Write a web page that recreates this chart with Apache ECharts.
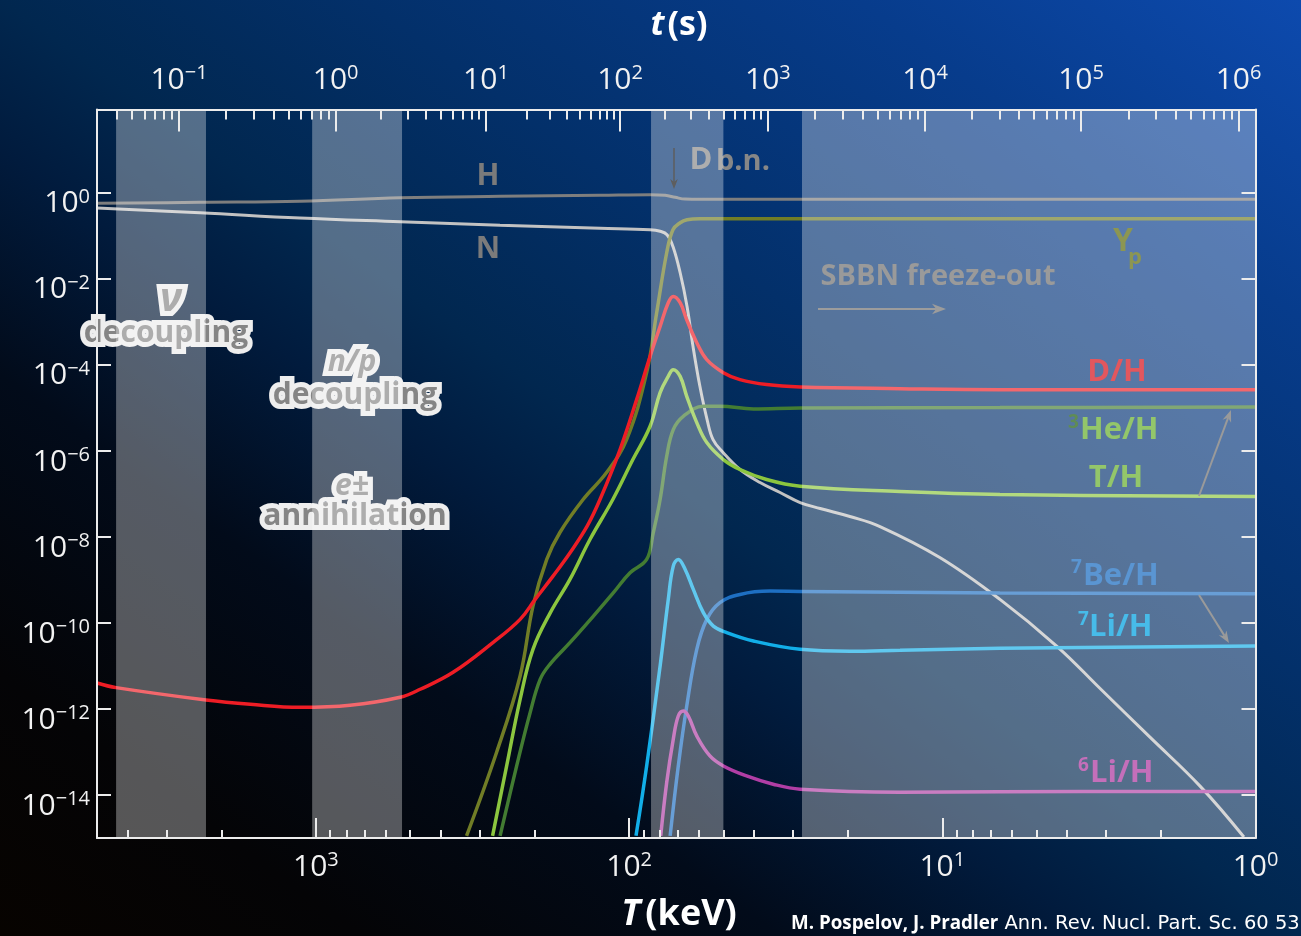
<!DOCTYPE html>
<html>
<head>
<meta charset="utf-8">
<script src="https://cdn.jsdelivr.net/npm/echarts@6/dist/echarts.min.js"></script>
<style>
  html, body { margin: 0; padding: 0; width: 1301px; height: 936px; overflow: hidden;
    background: linear-gradient(to top right, #070300 0%, #040406 14%, #020b1a 30%, #011b3d 42%, #01274f 50%, #03306a 64%, #073c8c 83%, #0d4aae 100%); }
  #chart { width: 1301px; height: 936px; }
</style>
</head>
<body>
<div id="chart"></div>
<script>
// Abundances during Big Bang nucleosynthesis.
// All pairs are [log10(T / keV), log10(abundance)].
const T_MAX_KEV = 5000;
const logTmax = Math.log10(T_MAX_KEV);
const yMin = -15, yMax = 1.94;

const tempTickExp = [0, 1, 2, 3];
const abundTickExp = [-14, -12, -10, -8, -6, -4, -2, 0];
// cosmic time t = 10^n s and the matching log10(T / keV)
const timeTickExp = [-1, 0, 1, 2, 3, 4, 5, 6];
const timeTickLogT = [3.437, 2.937, 2.457, 2.029, 1.557, 1.055, 0.557, 0.054];

// shaded epochs: nu decoupling, n/p decoupling + e± annihilation, D bottleneck, SBBN freeze-out
const shadedBands = [[3.638, 3.351], [3.012, 2.725], [1.930, 1.699], [1.448, 0]];

const hydrogen = [[3.699,-0.242],[3.370,-0.218],[3.051,-0.195],[2.731,-0.114],[2.412,-0.079],[2.093,-0.056],
  [1.933,-0.044],[1.885,-0.056],[1.853,-0.102],[1.821,-0.144],[1.774,-0.149],[0,-0.149]];

const neutrons = [[3.699,-0.353],[3.370,-0.462],[3.051,-0.585],[2.731,-0.671],[2.412,-0.753],[2.093,-0.822],
  [1.933,-0.857],[1.901,-0.892],[1.879,-0.973],[1.860,-1.245],[1.837,-1.856],[1.815,-2.639],[1.796,-3.568],
  [1.774,-4.497],[1.751,-5.270],[1.732,-5.735],[1.700,-6.037],[1.646,-6.432],[1.582,-6.734],[1.518,-6.966],
  [1.454,-7.199],[1.390,-7.339],[1.295,-7.524],[1.199,-7.757],[1.008,-8.477],[0.816,-9.452],[0.634,-10.542],
  [0.497,-11.518],[0.337,-12.656],[0.177,-13.794],[0.037,-14.978]];

const heliumYp = [[2.519,-14.950],[2.423,-13.006],[2.348,-11.233],[2.307,-9.607],[2.263,-8.523],[2.221,-7.896],
  [2.147,-7.129],[2.072,-6.502],[2.008,-5.735],[1.944,-4.179],[1.912,-2.785],[1.880,-1.391],[1.860,-0.857],
  [1.837,-0.694],[1.815,-0.624],[1.774,-0.601],[1.454,-0.601],[0,-0.601]];

const deuterium = [[3.699,-11.396],[3.638,-11.503],[3.351,-11.791],[3.209,-11.891],[3.051,-11.961],[2.891,-11.914],
  [2.731,-11.728],[2.667,-11.542],[2.562,-11.147],[2.434,-10.450],[2.348,-9.916],[2.300,-9.451],[2.243,-8.911],
  [2.188,-8.360],[2.134,-7.749],[2.093,-7.129],[2.029,-5.967],[1.976,-4.806],[1.933,-3.800],[1.901,-3.103],
  [1.875,-2.553],[1.859,-2.406],[1.837,-2.553],[1.816,-2.948],[1.784,-3.482],[1.752,-3.877],[1.699,-4.179],
  [1.646,-4.341],[1.561,-4.457],[1.454,-4.511],[1.135,-4.551],[0.816,-4.574],[0,-4.574]];

const tritium = [[2.436,-14.950],[2.391,-13.324],[2.348,-11.775],[2.307,-10.613],[2.251,-9.754],[2.189,-8.987],
  [2.125,-8.058],[2.052,-7.129],[1.988,-6.200],[1.933,-5.426],[1.901,-4.643],[1.875,-4.265],[1.859,-4.109],
  [1.837,-4.265],[1.816,-4.729],[1.784,-5.340],[1.752,-5.805],[1.699,-6.200],[1.646,-6.432],[1.561,-6.664],
  [1.454,-6.820],[1.135,-6.943],[0.816,-7.013],[0,-7.059]];

const helium3 = [[2.412,-14.950],[2.359,-13.324],[2.316,-12.084],[2.284,-11.310],[2.253,-10.961],[2.189,-10.458],
  [2.114,-9.840],[2.050,-9.296],[1.997,-8.832],[1.944,-8.523],[1.923,-7.903],[1.901,-7.129],[1.880,-6.123],
  [1.859,-5.503],[1.827,-5.194],[1.763,-4.962],[1.710,-4.962],[1.603,-5.022],[1.454,-4.999],[0.816,-4.992],[0,-4.980]];

const beryllium7 = [[1.869,-14.950],[1.843,-13.324],[1.816,-11.930],[1.784,-10.613],[1.752,-9.916],[1.710,-9.528],
  [1.646,-9.336],[1.550,-9.259],[1.454,-9.266],[0.816,-9.301],[0,-9.319]];

const lithium7 = [[1.978,-14.950],[1.944,-13.324],[1.901,-11.001],[1.875,-9.452],[1.859,-8.678],[1.843,-8.523],
  [1.821,-8.755],[1.795,-9.220],[1.763,-9.761],[1.731,-10.072],[1.688,-10.225],[1.603,-10.420],[1.454,-10.613],
  [1.295,-10.659],[1.135,-10.636],[0.816,-10.590],[0,-10.537]];

const lithium6 = [[1.899,-14.950],[1.880,-13.710],[1.859,-12.704],[1.843,-12.163],[1.827,-12.047],[1.811,-12.163],
  [1.784,-12.627],[1.742,-13.092],[1.699,-13.324],[1.625,-13.556],[1.540,-13.749],[1.454,-13.865],[1.135,-13.935],
  [0.816,-13.923],[0,-13.919]];

// ---- tick positions (log-spaced minor ticks) ----
const tempMinor = [];
for (let e = 0; e < 4; e++) {
  for (let k = 2; k <= 9; k++) {
    const v = e + Math.log10(k);
    if (v <= logTmax + 1e-9) tempMinor.push(v);
  }
}
const timeMinor = [];
for (let i = -1; i < timeTickLogT.length - 1; i++) {
  const a = i < 0 ? 0 : i, b = a + 1;
  const base = i < 0 ? timeTickLogT[0] - (timeTickLogT[1] - timeTickLogT[0]) : timeTickLogT[a];
  const step = timeTickLogT[b] - timeTickLogT[a];
  for (let k = 2; k <= 9; k++) {
    const v = base + step * Math.log10(k);
    if (v >= 0 && v <= logTmax) timeMinor.push(v);
  }
}

const FONT = "'Open Sans', 'Noto Sans', sans-serif";
const WHITE = '#ececec';

function pow10(e) {
  return '{m|10}{s|' + (e < 0 ? '\u2212' + (-e) : String(e)) + '}';
}
const labelRich = {
  m: { fontFamily: FONT, fontSize: 30, color: '#f2f2f2', lineHeight: 34 },
  s: { fontFamily: FONT, fontSize: 20, color: '#f2f2f2', lineHeight: 22, verticalAlign: 'top' }
};
const lineStyleAxis = { color: WHITE, width: 2 };

function lineSeries(name, data, color, width) {
  return {
    type: 'line', name: name, data: data, xAxisIndex: 0, yAxisIndex: 0,
    symbol: 'none', showSymbol: false, smooth: 0.4, clip: true, silent: true, z: 2,
    lineStyle: { color: color, width: width }
  };
}

// ---- annotation helpers ----
function text(t, x, y, size, fill, opt) {
  opt = opt || {};
  return {
    type: 'text', z: opt.z || 3, x: x, y: y,
    style: {
      text: t, fill: fill, font: (opt.style || 'normal') + ' ' + (opt.weight || 'bold') + ' ' + size + 'px ' + FONT,
      textAlign: opt.align || 'center', textVerticalAlign: 'middle'
    }
  };
}
function outlined(t, x, y, size, italic) {
  const font = (italic ? 'italic ' : '') + 'bold ' + size + 'px ' + FONT;
  return [
    { type: 'text', z: 3, x: x, y: y, style: { text: t, font: font, fill: '#eeeeee', stroke: '#eeeeee', lineWidth: 10, lineJoin: 'round', textAlign: 'center', textVerticalAlign: 'middle' } },
    { type: 'text', z: 4, x: x, y: y, style: { text: t, font: font, fill: '#858585', textAlign: 'center', textVerticalAlign: 'middle' } }
  ];
}
function arrow(x1, y1, x2, y2, color, w, head) {
  const ang = Math.atan2(y2 - y1, x2 - x1);
  const c = Math.cos(ang), s = Math.sin(ang);
  const bx = x2 - head * c, by = y2 - head * s;
  const nx = x2 - head * 0.7 * c, ny = y2 - head * 0.7 * s;
  const px = -s * head * 0.38, py = c * head * 0.38;
  return [
    { type: 'line', z: 30, shape: { x1: x1, y1: y1, x2: nx, y2: ny }, style: { stroke: color, lineWidth: w } },
    { type: 'polygon', z: 30, shape: { points: [[x2, y2], [bx + px, by + py], [nx, ny], [bx - px, by - py]] }, style: { fill: color } }
  ];
}

const graphics = [].concat(
  [
    text('H', 488, 176, 30, '#7b7b7b'),
    text('N', 488, 249, 30, '#7b7b7b'),
    text('D', 701, 160, 31, '#878787'),
    text('b.n.', 716, 162, 29, '#878787', { align: 'left' })
  ],
  outlined('\u03bd', 171, 300, 40, true),
  outlined('decoupling', 166, 333, 30, false),
  outlined('n/p', 352, 362, 30, true),
  outlined('decoupling', 355, 395, 30, false),
  outlined('e\u00b1', 352, 486, 30, true),
  outlined('annihilation', 355, 516, 30, false),
  [
    text('SBBN freeze-out', 938, 277, 29, '#9a9a9a', { z: 30 }),
    text('Y', 1123, 242, 32, '#8c9652', { z: 30 }),
    text('p', 1135, 258, 22, '#8c9652', { z: 30 }),
    text('D/H', 1117, 372, 31, '#e2575e', { z: 30 }),
    text('3', 1068, 423, 19, '#5f8c55', { z: 30, align: 'left' }),
    text('He/H', 1080, 430, 31, '#93c66a', { z: 30, align: 'left' }),
    text('T/H', 1116, 478, 31, '#93c66a', { z: 30 }),
    text('7', 1071, 568, 19, '#5a95d2', { z: 30, align: 'left' }),
    text('Be/H', 1083, 576, 31, '#5a95d2', { z: 30, align: 'left' }),
    text('7', 1078, 620, 19, '#47bbe9', { z: 30, align: 'left' }),
    text('Li/H', 1089, 627, 31, '#47bbe9', { z: 30, align: 'left' }),
    text('6', 1078, 766, 19, '#c46fba', { z: 30, align: 'left' }),
    text('Li/H', 1090, 773, 31, '#c46fba', { z: 30, align: 'left' })
  ],
  arrow(674, 148, 674, 189, '#5e5e5e', 1.5, 10),
  arrow(818, 309, 946, 309, '#9c9c9c', 2, 14),
  arrow(1199, 496, 1231, 410, '#9a9a9a', 2, 12),
  arrow(1199, 595, 1229, 643, '#9a9a9a', 2, 12),
  [
    {
      type: 'text', z: 30, x: 679, y: 915,
      style: {
        text: '{i|T}{n|(keV)}', textAlign: 'center', textVerticalAlign: 'middle',
        rich: {
          i: { font: 'italic bold 36px ' + FONT, fill: '#ffffff', padding: [0, 5, 0, 0] },
          n: { font: 'bold 36px ' + FONT, fill: '#ffffff' }
        }
      }
    },
    {
      type: 'text', z: 30, x: 679, y: 25,
      style: {
        text: '{i|t}{n|(s)}', textAlign: 'center', textVerticalAlign: 'middle',
        rich: {
          i: { font: 'italic bold 34px ' + FONT, fill: '#ffffff', padding: [0, 3, 0, 0] },
          n: { font: 'bold 34px ' + FONT, fill: '#ffffff' }
        }
      }
    },
    {
      type: 'text', z: 30, x: 791, y: 924,
      style: {
        text: '{b|M. Pospelov, J. Pradler}{r| Ann. Rev. Nucl. Part. Sc. 60 539}', textAlign: 'left', textVerticalAlign: 'middle',
        rich: {
          b: { font: 'bold 18.8px ' + FONT, fill: '#ffffff' },
          r: { font: '19.5px "DejaVu Sans", sans-serif', fill: '#ffffff' }
        }
      }
    }
  ]
);

const chart = echarts.init(document.getElementById('chart'), null, { renderer: 'canvas' });
chart.setOption({
  backgroundColor: 'transparent',
  animation: false,
  grid: { left: 97, right: 45.5, top: 109.5, bottom: 98, containLabel: false },
  xAxis: [
    {
      type: 'value', position: 'bottom', min: 0, max: logTmax, inverse: true, z: 10,
      axisLine: { show: true, onZero: false, lineStyle: lineStyleAxis },
      axisTick: { show: true, inside: true, length: 20, lineStyle: lineStyleAxis, customValues: tempTickExp },
      axisLabel: { customValues: tempTickExp, formatter: v => pow10(Math.round(v)), rich: labelRich, margin: 12 },
      splitLine: { show: false }
    },
    {
      type: 'value', position: 'bottom', min: 0, max: logTmax, inverse: true, z: 10,
      axisLine: { show: false, onZero: false },
      axisTick: { show: true, inside: true, length: 8, lineStyle: lineStyleAxis, customValues: tempMinor },
      axisLabel: { show: false }, splitLine: { show: false }
    },
    {
      type: 'value', position: 'top', min: 0, max: logTmax, inverse: true, z: 10,
      axisLine: { show: true, onZero: false, lineStyle: lineStyleAxis },
      axisTick: { show: true, inside: true, length: 22, lineStyle: lineStyleAxis, customValues: timeTickLogT },
      axisLabel: {
        customValues: timeTickLogT, rich: labelRich, margin: 12,
        formatter: v => {
          let best = 0;
          timeTickLogT.forEach((p, i) => { if (Math.abs(p - v) < Math.abs(timeTickLogT[best] - v)) best = i; });
          return pow10(timeTickExp[best]);
        }
      },
      splitLine: { show: false }
    },
    {
      type: 'value', position: 'top', min: 0, max: logTmax, inverse: true, z: 10,
      axisLine: { show: false, onZero: false },
      axisTick: { show: true, inside: true, length: 10, lineStyle: lineStyleAxis, customValues: timeMinor },
      axisLabel: { show: false }, splitLine: { show: false }
    }
  ],
  yAxis: [
    {
      type: 'value', position: 'left', min: yMin, max: yMax, z: 10,
      axisLine: { show: true, onZero: false, lineStyle: lineStyleAxis },
      axisTick: { show: true, inside: true, length: 14, lineStyle: lineStyleAxis, customValues: abundTickExp },
      axisLabel: { customValues: abundTickExp, formatter: v => pow10(Math.round(v)), rich: labelRich, margin: 7, padding: [22, 0, 0, 0] },
      splitLine: { show: false }
    },
    {
      type: 'value', position: 'right', min: yMin, max: yMax, z: 10,
      axisLine: { show: true, onZero: false, lineStyle: lineStyleAxis },
      axisTick: { show: true, inside: true, length: 14, lineStyle: lineStyleAxis, customValues: abundTickExp },
      axisLabel: { show: false }, splitLine: { show: false }
    }
  ],
  series: [
    lineSeries('H', hydrogen, '#7e7e7e', 3),
    lineSeries('N', neutrons, '#c2c2c2', 3),
    lineSeries('Yp', heliumYp, '#717d26', 3.5),
    lineSeries('3He/H', helium3, '#437c32', 3.5),
    lineSeries('T/H', tritium, '#8cc63f', 3.5),
    lineSeries('D/H', deuterium, '#ee1d25', 3.5),
    lineSeries('7Be/H', beryllium7, '#1e6fc2', 3.5),
    lineSeries('7Li/H', lithium7, '#12aee8', 3.5),
    lineSeries('6Li/H', lithium6, '#b13ea5', 3.5),
    {
      type: 'custom', data: shadedBands, xAxisIndex: 0, yAxisIndex: 0, z: 5, silent: true,
      encode: { x: [0, 1] },
      renderItem: (params, api) => {
        const a = api.coord([api.value(0), yMax]);
        const b = api.coord([api.value(1), yMin]);
        return {
          type: 'rect',
          shape: { x: Math.min(a[0], b[0]), y: a[1], width: Math.abs(b[0] - a[0]), height: b[1] - a[1] },
          style: { fill: 'rgba(255,255,255,0.33)' }
        };
      }
    }
  ],
  graphic: graphics
});
</script>
</body>
</html>
